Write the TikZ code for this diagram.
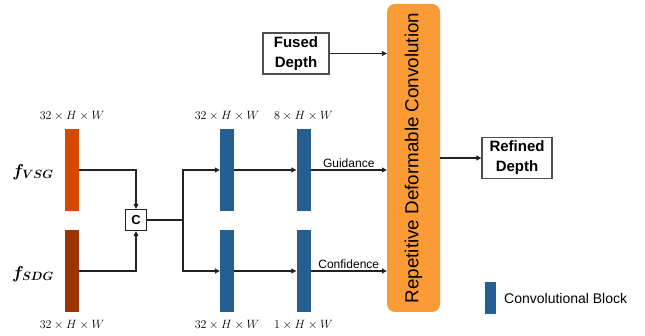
\documentclass[tikz,border=0pt]{standalone}
\usepackage{fontspec}
\setmainfont{Liberation Sans}
\usepackage{bm}
\usetikzlibrary{arrows.meta, positioning}

\definecolor{vsgcol}{HTML}{D34A00}
\definecolor{sdgcol}{HTML}{993300}
\definecolor{convcol}{HTML}{255E91}
\definecolor{rdccol}{HTML}{FA9B35}
\definecolor{linecol}{HTML}{222222}

\tikzset{
  bar/.style={draw=none, inner sep=0pt, minimum width=14pt, minimum height=82pt},
  convblk/.style={bar, fill=convcol},
  txtbox/.style={draw=linecol!80, line width=1.3pt, inner sep=0pt, align=center,
    font=\fontsize{15}{20}\selectfont\bfseries},
  dimlbl/.style={inner sep=0pt, font=\fontsize{11.5}{12}\selectfont},
  arr/.style={draw=linecol, line width=1.1pt, -{Triangle[length=5pt,width=5pt]}},
  conn/.style={draw=linecol, line width=1.1pt}
}

\begin{document}
\begin{tikzpicture}[x=1pt,y=-1pt]
\useasboundingbox (0,0) rectangle (645,336);
% Input features
\node[bar, fill=vsgcol] (vsg) at (72,170) {};
\node[bar, fill=sdgcol] (sdg) at (72,271) {};
\node[inner sep=0pt, font=\fontsize{17}{17}\selectfont] (vsglbl) at (33,172) {$\bm{f_{VSG}}$};
\node[inner sep=0pt, font=\fontsize{17}{17}\selectfont] (sdglbl) at (33,274) {$\bm{f_{SDG}}$};
\node[dimlbl, above=8pt of vsg] (dimvsg) {$32\times H\times W$};
\node[dimlbl, below=8pt of sdg] (dimsdg) {$32\times H\times W$};
% Concatenation
\node[draw=linecol, line width=1.3pt, minimum size=21pt, inner sep=0pt,
  font=\fontsize{13}{13}\selectfont\bfseries] (cat) at (136,220) {C};
\coordinate (split) at (183,220);
% Convolutional blocks
\node[convblk] (guid1) at (227,170) {};
\node[convblk] (conf1) at (227,271) {};
\node[convblk] (guid2) at (303.5,170) {};
\node[convblk] (conf2) at (303.5,271) {};
\node[dimlbl, above=8pt of guid1] (dimg1) {$32\times H\times W$};
\node[dimlbl, above=8pt of guid2] (dimg2) {$8\times H\times W$};
\node[dimlbl, below=8pt of conf1] (dimc1) {$32\times H\times W$};
\node[dimlbl, below=8pt of conf2] (dimc2) {$1\times H\times W$};
% Repetitive deformable convolution
\node[fill=rdccol, rounded corners=8pt, minimum width=53pt, minimum height=308pt] (rdc) at (413.5,158) {};
\node[rotate=90, inner sep=0pt, font=\fontsize{18.8}{20}\selectfont] (rdclbl) at (rdc.center) {Repetitive Deformable Convolution};
% Depth boxes
\node[txtbox, minimum width=66pt, minimum height=41pt] (fused) at (296,53.5) {Fused\\Depth};
\node[txtbox, minimum width=70pt, minimum height=41pt] (refined) at (517,158) {Refined\\Depth};
% Legend
\node[fill=convcol, inner sep=0pt, minimum width=11pt, minimum height=32pt] (legbar) at (490.5,298) {};
\node[anchor=west, inner sep=0pt, font=\fontsize{14}{14}\selectfont] (legtxt) at (504,298) {Convolutional Block};
% Connectors
\draw[arr] (vsg.east) -| (cat.north);
\draw[arr] (sdg.east) -| (cat.south);
\draw[conn] (cat.east) -- (split);
\draw[arr] (split) |- (guid1.west);
\draw[arr] (split) |- (conf1.west);
\draw[arr] (guid1.east) -- (guid2.west);
\draw[arr] (conf1.east) -- (conf2.west);
\draw[arr] (guid2.east) -- node[above, font=\fontsize{12}{12}\selectfont, inner sep=2pt] {Guidance} (guid2.east -| rdc.west);
\draw[arr] (conf2.east) -- node[above, font=\fontsize{12}{12}\selectfont, inner sep=2pt] {Confidence} (conf2.east -| rdc.west);
\draw[arr] (fused.east) -- (fused.east -| rdc.west);
\draw[arr] (rdc.east) -- (refined.west);
\end{tikzpicture}
\end{document}
